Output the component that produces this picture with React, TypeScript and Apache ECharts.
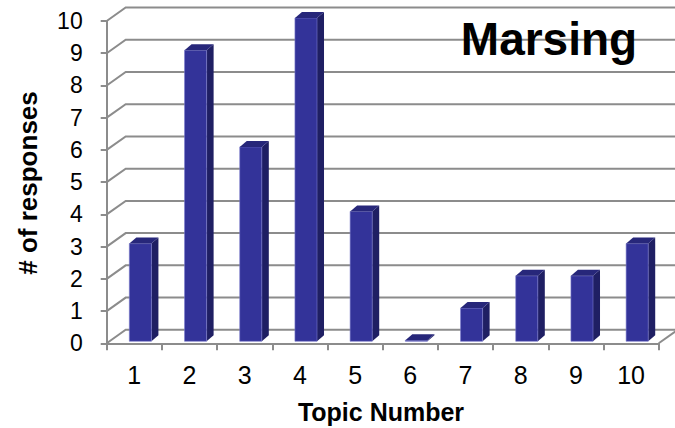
import React, { useEffect, useRef } from "react";
import * as echarts from "echarts";

const categories = ["1", "2", "3", "4", "5", "6", "7", "8", "9", "10"];
const responses = [3, 9, 6, 10, 4, 0, 1, 2, 2, 3];
const yTicks = [0, 1, 2, 3, 4, 5, 6, 7, 8, 9, 10];
const chartTitle = "Marsing";
const xTitle = "Topic Number";
const yTitle = "# of responses";

const FONT = "'Liberation Sans', Arial, sans-serif";
const GRID_COLOR = "#8c8c8c";
const DEPTH_X = 19;
const DEPTH_Y = -13.5;

export default function App() {
  const ref = useRef<HTMLDivElement>(null);

  useEffect(() => {
    document.body.style.margin = "0";
    if (!ref.current) return;
    const chart = echarts.init(ref.current, undefined, { renderer: "svg" });

    const option: any = {
      animation: false,
      backgroundColor: "#ffffff",
      grid: { left: 106.7, right: 16.3, top: 21, bottom: 84.7, containLabel: false },
      xAxis: {
        type: "category",
        data: categories,
        boundaryGap: true,
        axisLine: { show: true, lineStyle: { color: GRID_COLOR, width: 2 } },
        axisTick: { show: true, interval: 0, length: 7, lineStyle: { color: GRID_COLOR, width: 2 } },
        axisLabel: { interval: 0, margin: 19, fontSize: 25, color: "#000", fontFamily: FONT },
        splitLine: { show: false },
      },
      yAxis: {
        type: "value",
        min: 0,
        max: 10,
        interval: 1,
        axisLine: { show: true, lineStyle: { color: GRID_COLOR, width: 2 } },
        axisTick: { show: true, length: 6, lineStyle: { color: GRID_COLOR, width: 2 } },
        axisLabel: { margin: 24, fontSize: 23, color: "#000", fontFamily: FONT },
        splitLine: { show: false },
      },
      graphic: [
        {
          type: "text",
          x: 549,
          y: 39,
          z: 100,
          style: {
            text: chartTitle,
            fontSize: 46,
            fontWeight: "bold",
            fontFamily: FONT,
            fill: "#000",
            align: "center",
            verticalAlign: "middle",
          },
        },
        {
          type: "text",
          x: 381,
          y: 412,
          style: {
            text: xTitle,
            fontSize: 25,
            fontWeight: "bold",
            fontFamily: FONT,
            fill: "#000",
            align: "center",
            verticalAlign: "middle",
          },
        },
        {
          type: "text",
          x: 28,
          y: 183,
          rotation: Math.PI / 2,
          style: {
            text: yTitle,
            fontSize: 26,
            fontWeight: "bold",
            fontFamily: FONT,
            fill: "#000",
            align: "center",
            verticalAlign: "middle",
          },
        },
      ],
      series: [
        {
          type: "custom",
          name: "walls",
          z: 1,
          silent: true,
          data: yTicks.map((v) => [0, v]),
          renderItem: (params: any, api: any) => {
            const v = api.value(1);
            const [cx, y] = api.coord([0, v]);
            const w = api.size([1, 0])[0];
            const x0 = cx - w / 2;
            const xEnd = x0 + w * categories.length;
            const children: any[] = [
              {
                type: "polyline",
                shape: {
                  points: [
                    [x0, y],
                    [x0 + DEPTH_X, y + DEPTH_Y],
                    [xEnd + 60, y + DEPTH_Y],
                  ],
                },
                style: { stroke: GRID_COLOR, lineWidth: 2, fill: "none" },
              },
            ];
            if (v === 0) {
              children.push({
                type: "line",
                shape: { x1: xEnd, y1: y, x2: xEnd + DEPTH_X, y2: y + DEPTH_Y },
                style: { stroke: GRID_COLOR, lineWidth: 2 },
              });
            }
            return { type: "group", children };
          },
        },
        {
          type: "custom",
          name: "responses",
          z: 5,
          data: responses.map((v, i) => [i, v]),
          renderItem: (params: any, api: any) => {
            const i = api.value(0);
            const v = api.value(1);
            const [cx, yTop] = api.coord([i, v]);
            const [, yBase] = api.coord([i, 0]);
            const w = api.size([1, 0])[0];
            const left = cx - 0.09 * w;
            const right = cx + 0.31 * w;
            const top = yTop - 3;
            const bottom = yBase - 2;
            const dx = 7;
            const dy = -6;
            const children: any[] = [];
            if (bottom - top > 0.5) {
              children.push({
                type: "polygon",
                shape: {
                  points: [
                    [right, top],
                    [right + dx, top + dy],
                    [right + dx, bottom + dy],
                    [right, bottom],
                  ],
                },
                style: { fill: "#1f1f63" },
              });
              children.push({
                type: "rect",
                shape: { x: left, y: top, width: right - left, height: bottom - top },
                style: { fill: "#333399", stroke: "#7a7acc", lineWidth: 0.6 },
              });
            }
            children.push({
              type: "polygon",
              shape: {
                points: [
                  [left, top],
                  [left + dx, top + dy],
                  [right + dx, top + dy],
                  [right, top],
                ],
              },
              style: { fill: "#27277a" },
            });
            return { type: "group", children };
          },
        },
      ],
    };

    chart.setOption(option);
    return () => chart.dispose();
  }, []);

  return <div ref={ref} style={{ width: 675, height: 428 }} />;
}
